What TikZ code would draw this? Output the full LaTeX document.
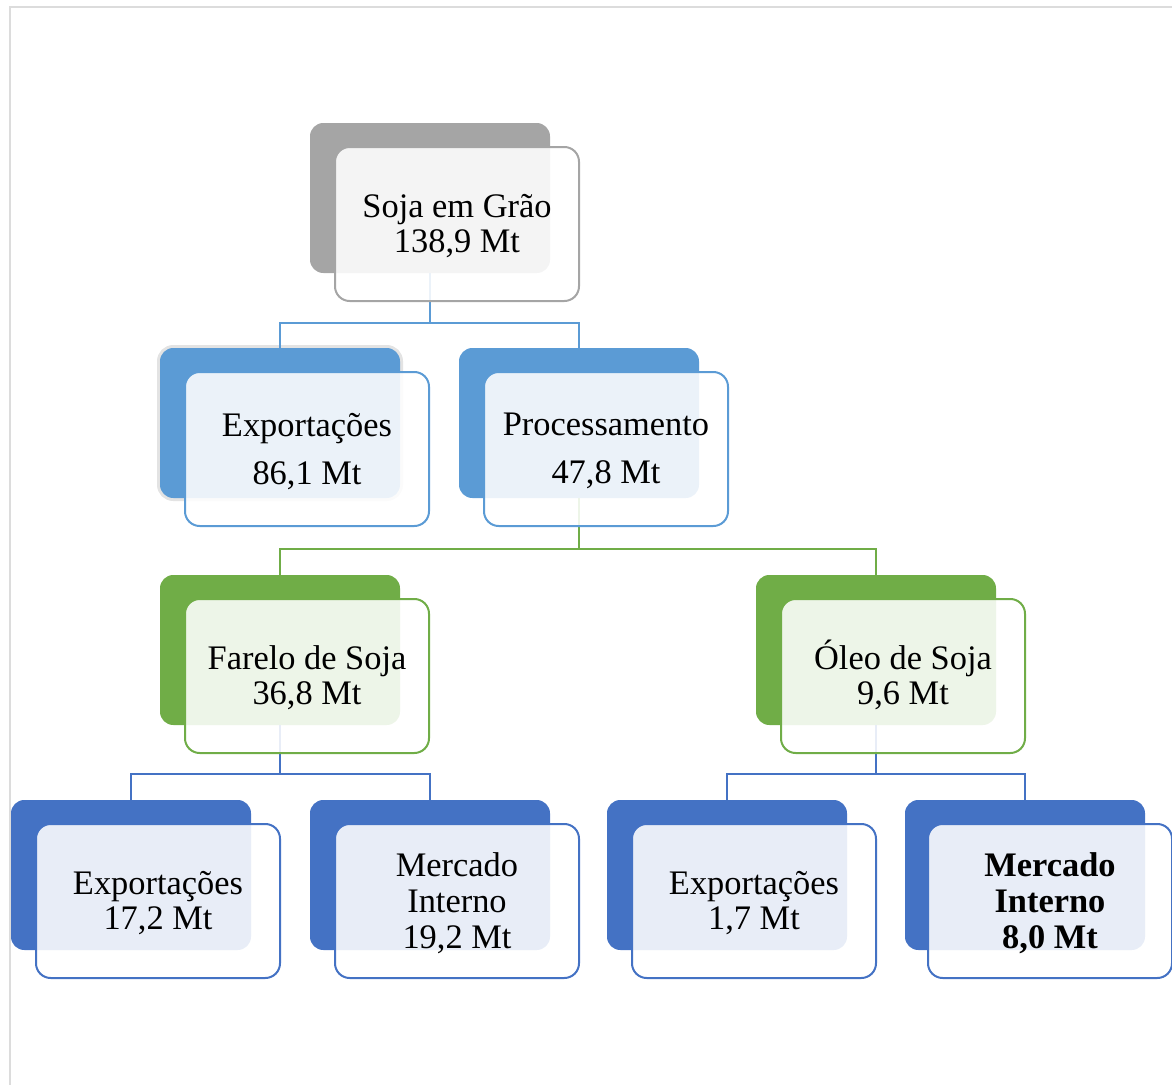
\documentclass[tikz,border=0pt]{standalone}
\usepackage{fontspec}
\setmainfont{Liberation Serif}
\definecolor{cgray}{HTML}{A5A5A5}
\definecolor{cblue}{HTML}{5B9BD5}
\definecolor{cgreen}{HTML}{70AD47}
\definecolor{cdblue}{HTML}{4472C4}
\definecolor{halo}{HTML}{E3E3E3}
\definecolor{framec}{HTML}{DCDCDC}
\begin{document}
\begin{tikzpicture}[x=0.75pt,y=-0.75pt,
  backbox/.style={rectangle, rounded corners=10pt, minimum width=180pt, minimum height=112.5pt, inner sep=0pt, outer sep=0pt, fill=#1},
  frontbox/.style={rectangle, rounded corners=11pt, minimum width=183pt, minimum height=115.5pt, inner sep=0pt, outer sep=0pt, draw=#1, line width=1.5pt, fill=white, fill opacity=0.88},
  txt/.style={align=center, inner sep=0pt, yshift=-1.6pt, font=\fontsize{25.8}{26.25}\selectfont},
  wide/.style={font=\fontsize{25.8}{36}\selectfont},
  three/.style={font=\fontsize{25.8}{27}\selectfont},
  conn/.style={draw=#1, line width=1.6pt}]
\useasboundingbox (0,0) rectangle (1172,1085);
\draw[framec, line width=1.5pt] (1172,7) -- (10,7) -- (10,1085);

% back boxes
\node[backbox=cgray] (A) at (430,198) {};
\node[backbox=cblue, preaction={draw=halo, line width=4.5pt}] (B) at (280,423) {};
\node[backbox=cblue] (C) at (579,423) {};
\node[backbox=cgreen] (D) at (280,650) {};
\node[backbox=cgreen] (E) at (876,650) {};
\node[backbox=cdblue] (F) at (131,875) {};
\node[backbox=cdblue] (G) at (430,875) {};
\node[backbox=cdblue] (H) at (727,875) {};
\node[backbox=cdblue] (I) at (1025,875) {};

% connectors
\coordinate (j1) at (430,323);
\coordinate (j2) at (579,549);
\coordinate (j3) at (280,774);
\coordinate (j4) at (876,774);
\draw[conn=cblue] (A.south) -- (j1) -| (B.north);
\draw[conn=cblue] (j1) -| (C.north);
\draw[conn=cgreen] (C.south) -- (j2) -| (D.north);
\draw[conn=cgreen] (j2) -| (E.north);
\draw[conn=cdblue] (D.south) -- (j3) -| (F.north);
\draw[conn=cdblue] (j3) -| (G.north);
\draw[conn=cdblue] (E.south) -- (j4) -| (H.north);
\draw[conn=cdblue] (j4) -| (I.north);

% front boxes
\node[frontbox=cgray] (a) at (457,224) {};
\node[frontbox=cblue] (b) at (307,449) {};
\node[frontbox=cblue] (c) at (606,449) {};
\node[frontbox=cgreen] (d) at (307,676) {};
\node[frontbox=cgreen] (e) at (903,676) {};
\node[frontbox=cdblue] (f) at (158,901) {};
\node[frontbox=cdblue] (g) at (457,901) {};
\node[frontbox=cdblue] (h) at (754,901) {};
\node[frontbox=cdblue] (i) at (1050,901) {};

% texts
\node[txt] (ta) at (a) {Soja em Grão\\138,9 Mt};
\node[txt, wide] (tb) at (b) {Exportações\\86,1 Mt};
\node[txt, wide] (tc) at (c) {Processamento\\47,8 Mt};
\node[txt] (td) at (d) {Farelo de Soja\\36,8 Mt};
\node[txt, yshift=2.3pt] (te) at (e) {Óleo de Soja\\9,6 Mt};
\node[txt] (tf) at (f) {Exportações\\17,2 Mt};
\node[txt, three] (tg) at (g) {Mercado\\Interno\\19,2 Mt};
\node[txt] (th) at (h) {Exportações\\1,7 Mt};
\node[txt, three] (ti) at (i) {\bfseries Mercado\\\bfseries Interno\\\bfseries 8,0 Mt};
\end{tikzpicture}
\end{document}
